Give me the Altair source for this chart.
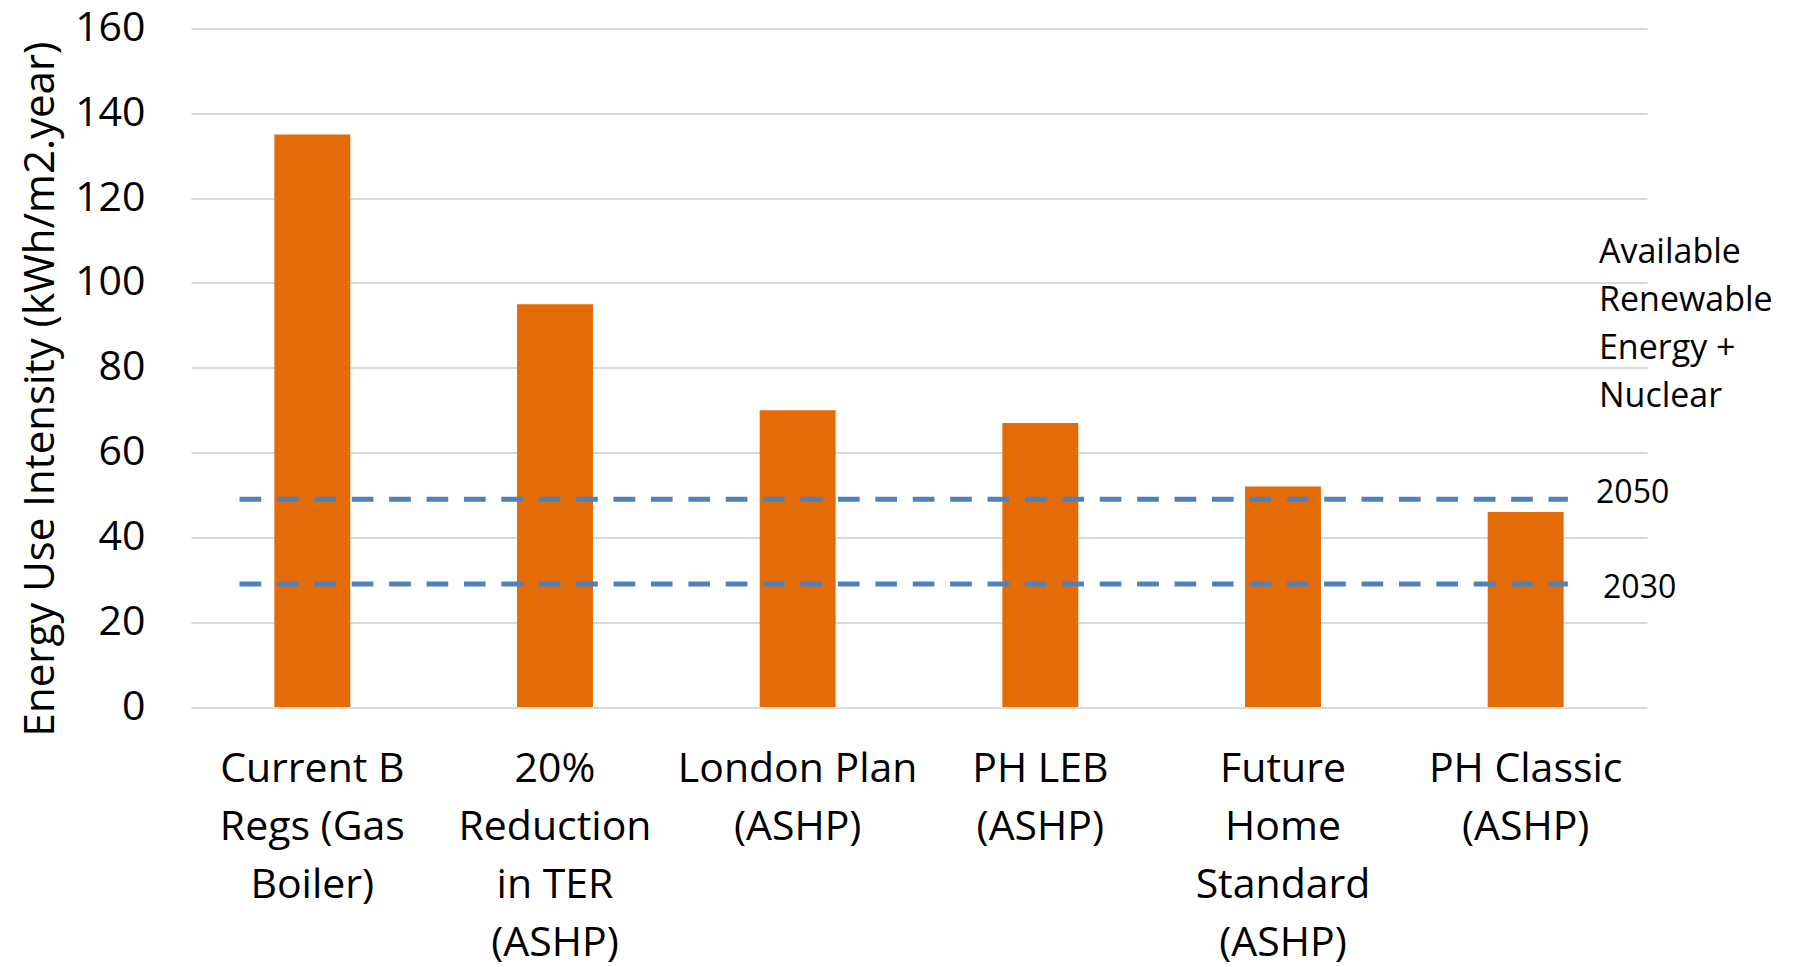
import altair as alt
import pandas as pd

# Energy use intensity per building standard
categories = [
    "Current B Regs (Gas Boiler)",
    "20% Reduction in TER (ASHP)",
    "London Plan (ASHP)",
    "PH LEB (ASHP)",
    "Future Home Standard (ASHP)",
    "PH Classic (ASHP)",
]
label_lines = [
    ["Current B", "Regs (Gas", "Boiler)"],
    ["20%", "Reduction", "in TER", "(ASHP)"],
    ["London Plan", "(ASHP)"],
    ["PH LEB", "(ASHP)"],
    ["Future", "Home", "Standard", "(ASHP)"],
    ["PH Classic", "(ASHP)"],
]
eui = [135, 95, 70, 67, 52, 46]

# Available renewable energy + nuclear targets
target_years = ["2050", "2030"]
target_values = [49, 29]
heading_lines = ["Available", "Renewable", "Energy +", "Nuclear"]

y_ticks = [0, 20, 40, 60, 80, 100, 120, 140, 160]

FONT = "Open Sans"
BAR_COLOR = "#E36C09"
LINE_COLOR = "#4F81BD"
GRID_COLOR = "#D9D9D9"

bars_df = pd.DataFrame({"category": categories, "eui": eui})
targets_df = pd.DataFrame({"year": target_years, "value": target_values})

# multi-line category labels
label_expr = ""
for cat, lines in zip(categories, label_lines):
    arr = "[" + ",".join("'" + l + "'" for l in lines) + "]"
    label_expr += f"datum.value === '{cat}' ? {arr} : "
label_expr += "datum.value"

y_scale = alt.Scale(domain=[0, 160], nice=False)

bars = alt.Chart(bars_df).mark_bar(color=BAR_COLOR).encode(
    x=alt.X(
        "category:N",
        sort=categories,
        scale=alt.Scale(paddingInner=0.687, paddingOuter=0.3435),
        axis=alt.Axis(
            title=None,
            labelAngle=0,
            labelExpr=label_expr,
            labelFont=FONT,
            labelFontSize=41,
            labelColor="#000000",
            labelLineHeight=58,
            labelBaseline="alphabetic",
            labelPadding=74,
            labelLimit=500,
            labelOverlap=False,
            labelFlush=False,
            ticks=False,
            tickSize=0,
            domain=False,
            grid=False,
        ),
    ),
    y=alt.Y(
        "eui:Q",
        scale=y_scale,
        axis=alt.Axis(
            values=y_ticks,
            title="Energy Use Intensity (kWh/m2.year)",
            titleFont=FONT,
            titleFontSize=42,
            titleFontWeight="normal",
            titleColor="#000000",
            titleAngle=270,
            titleAlign="center",
            titleBaseline="alphabetic",
            titleX=-138,
            titleY=360,
            labelFont=FONT,
            labelFontSize=41,
            labelColor="#000000",
            labelPadding=46,
            labelBaseline="middle",
            labelFlush=False,
            ticks=False,
            tickSize=0,
            domain=False,
            grid=True,
            gridColor=GRID_COLOR,
            gridWidth=2,
        ),
    ),
)

# horizontal positions below are in category-band units (0 = left edge, 6 = right edge)
band_x = alt.Scale(domain=[0, 6], nice=False, zero=False)

targets = alt.Chart(targets_df).mark_rule(
    color=LINE_COLOR, strokeWidth=5, strokeDash=[21.7, 15.7], strokeCap="butt"
).encode(
    x=alt.X("start:Q", scale=band_x, axis=None),
    x2="end:Q",
    y=alt.Y("value:Q", scale=y_scale),
).transform_calculate(start="0.2", end="5.674")


def year_label(year, dx, dy):
    return alt.Chart(targets_df).transform_filter(
        alt.datum.year == year
    ).mark_text(
        font=FONT, fontSize=32, align="left", baseline="middle",
        dx=dx, dy=dy, color="#000000",
    ).encode(
        x=alt.datum(5.79, scale=band_x),
        y=alt.Y("value:Q", scale=y_scale),
        text="year:N",
    )


heading = alt.Chart(pd.DataFrame({"k": [0]})).mark_text(
    font=FONT, fontSize=34, align="left", baseline="alphabetic",
    lineHeight=48, color="#000000", text=heading_lines,
).encode(
    x=alt.datum(5.802, scale=band_x),
    y=alt.datum(104.6),
)

overlay = alt.layer(
    targets,
    year_label("2050", 0, -6),
    year_label("2030", 7, 4),
    heading,
)

chart = (
    alt.layer(bars, overlay)
    .resolve_scale(x="independent")
    .properties(
        width=1456,
        height=678.5,
        autosize=alt.AutoSizeParams(type="none"),
        padding={"left": 191, "top": 28.5, "right": 147, "bottom": 260},
        background="#FFFFFF",
    )
    .configure_view(stroke=None)
)

chart.save("out.html", embed_options={"renderer": "svg", "actions": False})
